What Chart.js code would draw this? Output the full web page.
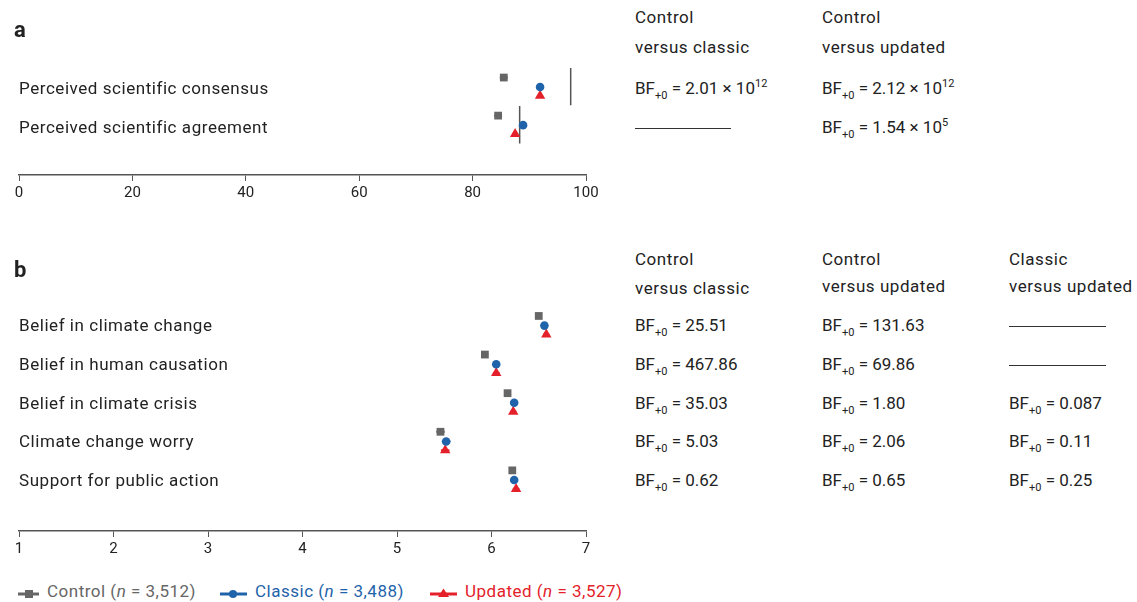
<!DOCTYPE html>
<html>
<head>
<meta charset="utf-8">
<script src="https://cdn.jsdelivr.net/npm/chart.js@4.4.0/dist/chart.umd.min.js"></script>
<style>
  html, body { margin: 0; padding: 0; background: #fff; }
  body { width: 1137px; height: 602px; position: relative; overflow: hidden;
         font-family: Roboto, "Noto Sans", sans-serif; color: #222; }
  canvas { position: absolute; left: 0; }
  .t { position: absolute; font-size: 17px; line-height: 20px; white-space: nowrap; }
  .w { letter-spacing: 0.55px; }
  .lbl { position: absolute; font-size: 22px; font-weight: bold; line-height: 24px; }
  sub { font-size: 11px; vertical-align: -5px; line-height: 0; }
  sup { font-size: 11px; vertical-align: 7px; line-height: 0; }
  .dash { position: absolute; height: 0; border-top: 1px solid #333; }
  .leg { position: absolute; top: 581px; font-size: 17px; line-height: 20px; white-space: nowrap; letter-spacing: 0.5px; }
  .leg svg { vertical-align: -3px; margin-right: 8px; }
</style>
</head>
<body>
<canvas id="ca" width="620" height="205" style="top:0"></canvas>
<canvas id="cb" width="620" height="309" style="top:252px"></canvas>
<div id="overlay"></div>
<script>
// ---------- Data ----------
const categoriesA = ['Perceived scientific consensus', 'Perceived scientific agreement'];
const controlA = [85.5, 84.5];
const classicA = [91.9, 88.9];
const updatedA = [91.9, 87.5];
const referenceA = [97.3, 88.3];
const controlErrA = [0.7, 0.7];
const classicErrA = [0.5, 0.5];
const updatedErrA = [0.5, 0.5];
const ticksA = [0, 20, 40, 60, 80, 100];

const categoriesB = ['Belief in climate change', 'Belief in human causation', 'Belief in climate crisis', 'Climate change worry', 'Support for public action'];
const controlB = [6.50, 5.93, 6.17, 5.46, 6.22];
const classicB = [6.56, 6.05, 6.24, 5.52, 6.24];
const updatedB = [6.58, 6.05, 6.23, 5.51, 6.26];
const controlErrB = [0.03, 0.035, 0.035, 0.045, 0.035];
const classicErrB = [0.03, 0.035, 0.035, 0.045, 0.035];
const updatedErrB = [0.03, 0.035, 0.035, 0.045, 0.035];
const ticksB = [1, 2, 3, 4, 5, 6, 7];

const bfHeadersA = [['Control', 'versus classic'], ['Control', 'versus updated']];
const bfA = [
  ['2.01 × 10<sup>12</sup>', '2.12 × 10<sup>12</sup>'],
  [null, '1.54 × 10<sup>5</sup>']
];
const bfHeadersB = [['Control', 'versus classic'], ['Control', 'versus updated'], ['Classic', 'versus updated']];
const bfB = [
  ['25.51', '131.63', null],
  ['467.86', '69.86', null],
  ['35.03', '1.80', '0.087'],
  ['5.03', '2.06', '0.11'],
  ['0.62', '0.65', '0.25']
];
const legendLabels = [['Control', '3,512'], ['Classic', '3,488'], ['Updated', '3,527']];

// ---------- Style ----------
const GRAY = '#666666', BLUE = '#1f63aa', RED = '#e4212a';
const OFF = { control: -0.25, classic: 0, updated: 0.23 };

const errorBars = {
  id: 'errorBars',
  beforeDatasetsDraw(chart) {
    const ctx = chart.ctx, xs = chart.scales.x, ys = chart.scales.y;
    chart.data.datasets.forEach(ds => {
      if (!ds.errors) return;
      ctx.save();
      ctx.strokeStyle = ds.borderColor; ctx.lineWidth = 2;
      ds.data.forEach((p, i) => {
        const e = ds.errors[i];
        const y = ys.getPixelForValue(p.y);
        ctx.beginPath();
        ctx.moveTo(xs.getPixelForValue(p.x - e), y);
        ctx.lineTo(xs.getPixelForValue(p.x + e), y);
        ctx.stroke();
      });
      ctx.restore();
    });
  }
};

function series(vals, errs, off, color, style, radius) {
  return {
    data: vals.map((v, i) => ({ x: v, y: i + off })),
    errors: errs,
    backgroundColor: color, borderColor: color, borderWidth: 0,
    pointStyle: style, pointRadius: radius, pointHoverRadius: radius, showLine: false
  };
}

function makeChart(id, ds, xmin, xmax, step, ymax, pad) {
  return new Chart(document.getElementById(id), {
    type: 'scatter',
    data: { datasets: ds },
    options: {
      responsive: false, animation: false, devicePixelRatio: 1,
      layout: { padding: pad },
      plugins: { legend: { display: false }, tooltip: { enabled: false } },
      scales: {
        x: {
          min: xmin, max: xmax,
          ticks: { stepSize: step, color: '#222', font: { family: 'Roboto', size: 15 }, padding: 3 },
          grid: { display: true, drawOnChartArea: false, drawTicks: true, tickLength: 6, tickColor: '#555', color: '#555' },
          border: { display: true, color: '#555', width: 1.5 }
        },
        y: { display: false, reverse: true, min: -1, max: ymax }
      }
    },
    plugins: [errorBars]
  });
}

// Panel a
const dsA = [
  series(controlA, controlErrA, OFF.control, GRAY, 'rect', 5.5),
  series(classicA, classicErrA, OFF.classic, BLUE, 'circle', 4.3),
  series(updatedA, updatedErrA, OFF.updated, RED, 'triangle', 6)
];
referenceA.forEach((v, i) => dsA.push({
  data: [{ x: v, y: i - 0.5 }, { x: v, y: i + 0.48 }],
  showLine: true, borderColor: '#555', borderWidth: 1.5, pointRadius: 0
}));
makeChart('ca', dsA, 0, 100, 20, 2.31, { left: 19, right: 34, top: 49, bottom: 0 });

// Panel b
const dsB = [
  series(controlB, controlErrB, OFF.control, GRAY, 'rect', 5.5),
  series(classicB, classicErrB, OFF.classic, BLUE, 'circle', 4.3),
  series(updatedB, updatedErrB, OFF.updated, RED, 'triangle', 6)
];
makeChart('cb', dsB, 1, 7, 1, 5.32, { left: 19, right: 34, top: 35, bottom: 0 });

// ---------- Text overlay ----------
const ov = document.getElementById('overlay');
function txt(html, x, yc, cls) {
  const d = document.createElement('div');
  d.className = cls || 't';
  d.innerHTML = html;
  d.style.left = x + 'px';
  d.style.top = (yc - 10) + 'px';
  ov.appendChild(d);
  return d;
}
function dash(x, w, y) {
  const d = document.createElement('div');
  d.className = 'dash';
  d.style.left = x + 'px'; d.style.width = w + 'px'; d.style.top = y + 'px';
  ov.appendChild(d);
}
txt('a', 14, 28, 'lbl');
txt('b', 14, 268, 'lbl');

const rowYA = [88, 127];
categoriesA.forEach((c, i) => txt(c, 19, rowYA[i], 't w'));
const colX = [635, 822, 1009];
bfHeadersA.forEach((h, j) => { txt(h[0], colX[j], 17, 't w'); txt(h[1], colX[j], 47, 't w'); });
bfA.forEach((row, i) => row.forEach((v, j) => {
  if (v === null) dash(colX[j], 96, rowYA[i] + 1);
  else txt('BF<sub>+0</sub> = ' + v, colX[j], rowYA[i]);
}));

const rowYB = [325, 364, 403, 441, 480];
categoriesB.forEach((c, i) => txt(c, 19, rowYB[i], 't w'));
const hdr2Y = [288, 286, 286];
bfHeadersB.forEach((h, j) => { txt(h[0], colX[j], 259, 't w'); txt(h[1], colX[j], hdr2Y[j], 't w'); });
bfB.forEach((row, i) => row.forEach((v, j) => {
  if (v === null) dash(colX[j], 97, rowYB[i] + 1);
  else txt('BF<sub>+0</sub> = ' + v, colX[j], rowYB[i]);
}));

// Legend
const legColors = [GRAY, BLUE, RED];
const legX = [18, 220, 430];
const legMarks = [
  '<rect x="7" y="2" width="8" height="8"/>',
  '<circle cx="13" cy="6" r="4"/>',
  '<polygon points="13.5,0.5 19,9 8,9"/>'
];
const legW = [21, 27, 27];
legendLabels.forEach((l, i) => {
  const d = document.createElement('div');
  d.className = 'leg';
  d.style.left = legX[i] + 'px';
  d.style.color = legColors[i];
  d.innerHTML = `<svg width="${legW[i]}" height="12" fill="${legColors[i]}"><line x1="0" y1="6" x2="${legW[i]}" y2="6" stroke="${legColors[i]}" stroke-width="3"/>${legMarks[i]}</svg>${l[0]} (<i>n</i> = ${l[1]})`;
  ov.appendChild(d);
});
</script>
</body>
</html>
